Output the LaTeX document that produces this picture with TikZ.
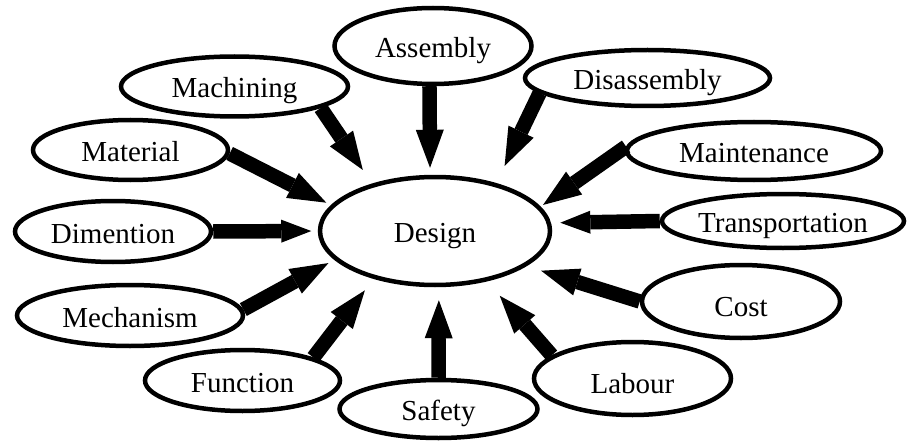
\documentclass[tikz,border=0pt]{standalone}
\usepackage{fontspec}
\setmainfont{Liberation Serif}
\usetikzlibrary{shapes.geometric,arrows.meta}
\begin{document}
\begin{tikzpicture}[x=1pt,y=-1pt,
  bub/.style={ellipse,draw,line width=4.5pt,inner sep=0pt,
    font=\fontsize{29}{34}\selectfont,text height=23pt,text depth=0pt},
  arr/.style={line width=14.5pt,-{Triangle[length=38pt,width=28pt,line width=0pt]}},
  arrs/.style={line width=14.5pt,-{Triangle[length=30pt,width=23pt,line width=0pt]}}]
\useasboundingbox[fill=white] (0,0) rectangle (910,441);
\node[bub,minimum width=230pt,minimum height=108pt] (design) at (435,231) {Design};
\node[bub,minimum width=197pt,minimum height=76pt] (asm) at (433,46) {Assembly};
\node[bub,minimum width=227pt,minimum height=60pt] (mach) at (234.5,86.5) {Machining};
\node[bub,minimum width=195pt,minimum height=60pt] (mat) at (130.5,150) {Material};
\node[bub,minimum width=196pt,minimum height=61pt] (dim) at (113,231.5) {Dimention};
\node[bub,minimum width=226pt,minimum height=61pt] (mech) at (130,315.5) {Mechanism};
\node[bub,minimum width=195pt,minimum height=61pt] (func) at (242.5,380.5) {Function};
\node[bub,minimum width=198pt,minimum height=58pt] (saf) at (438.5,409) {Safety};
\node[bub,minimum width=197pt,minimum height=73pt,text height=29pt] (lab) at (632.5,378.5) {Labour};
\node[bub,minimum width=198pt,minimum height=73pt,text height=29pt] (cost) at (741,301.5) {Cost};
\node[bub,minimum width=242pt,minimum height=54pt] (trans) at (783,221) {Transportation};
\node[bub,minimum width=254pt,minimum height=58pt] (maint) at (754,151) {Maintenance};
\node[bub,minimum width=245pt,minimum height=56pt] (dis) at (647.5,78) {Disassembly};
\draw[arr,shorten >=7pt] (asm.-95) -- (design.95.3);
\draw[arr,shorten >=16.4pt] (mach.-14) -- (design.143.9);
\draw[arr,shorten >=5.2pt] (mat.-2) -- (design.166.5);
\draw[arrs,shorten >=6.5pt] (dim.east) -- (design.west);
\draw[arr,shorten >=6.7pt] (mech.3) -- (design.196.6);
\draw[arr,shorten >=14.4pt] (func.18) -- (design.218.7);
\draw[arr,shorten >=13pt] (saf.north) -- (design.-86.8);
\draw[arr,shorten >=19.1pt] (lab.164) -- (design.-44.8);
\draw[arr,shorten >=15.2pt] (cost.west) -- (design.-21.3);
\draw[arrs,shorten >=9.3pt] (trans.west) -- (design.4);
\draw[arr,shorten >=2.9pt] (maint.178) -- (design.13.35);
\draw[arr,shorten >=19pt] (dis.188.5) -- (design.38.2);
\end{tikzpicture}
\end{document}
